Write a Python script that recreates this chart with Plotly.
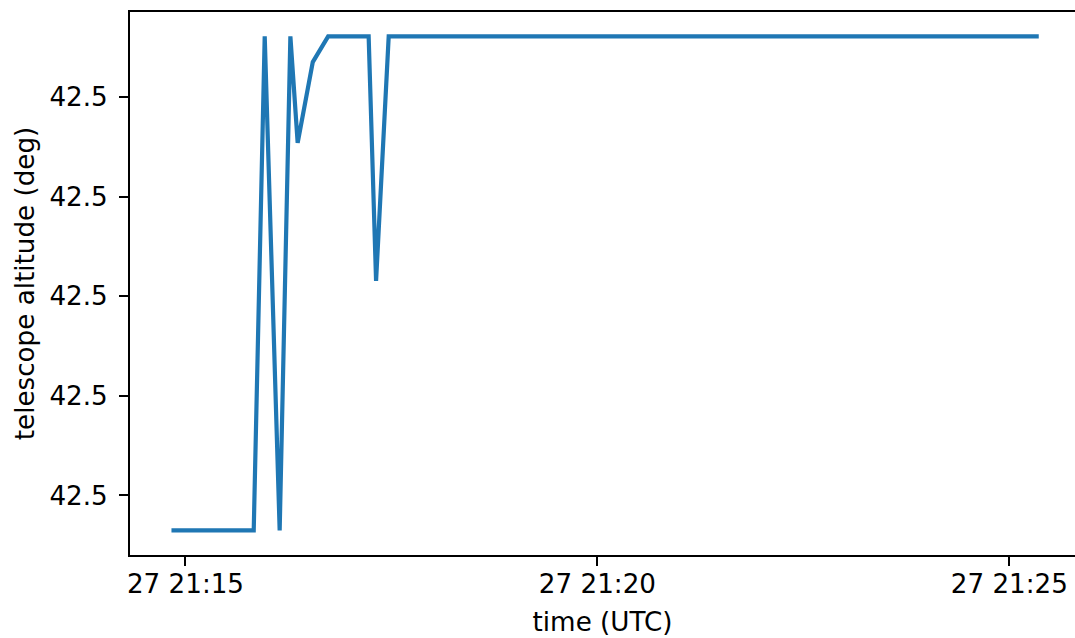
import plotly.graph_objects as go

# --- data ---
date = "2023-03-27"
times = ["21:14:49.8", "21:15:49.7", "21:15:57.7", "21:16:08.6", "21:16:16.4",
         "21:16:21.7", "21:16:32.7", "21:16:43.9", "21:17:13.4", "21:17:18.8",
         "21:17:28.0", "21:25:21.4"]
altitude = [42.4997649, 42.4997649, 42.5002609, 42.4997649, 42.5002609,
            42.5001539, 42.5002351, 42.5002609, 42.5002609, 42.5000155,
            42.5002609, 42.5002609]
x_title = "time (UTC)"
y_title = "telescope altitude (deg)"

x = [f"{date} {t}" for t in times]

FONT = "DejaVu Sans"
FS = 26.2

fig = go.Figure()
fig.add_trace(go.Scatter(x=x, y=altitude, mode="lines",
                         line=dict(color="#1f77b4", width=4.2),
                         showlegend=False))

fig.update_layout(
    width=1075, height=638,
    paper_bgcolor="white", plot_bgcolor="white",
    margin=dict(l=130, r=0, t=12, b=83, autoexpand=False),
    font=dict(family=FONT, size=FS, color="black"),
)
fig.update_xaxes(
    type="date",
    range=[f"{date} 21:14:19.6", f"{date} 21:25:47.8"],
    tickformat="%d %H:%M", dtick=300000, tick0=f"{date} 21:15:00",
    showgrid=False, zeroline=False,
    showline=True, linecolor="black", linewidth=2, mirror=True,
    ticks="outside", ticklen=9, tickwidth=2, tickcolor="black",
    ticklabelstandoff=-4,
    tickfont=dict(family=FONT, size=FS, color="black"),
    title=dict(text=x_title, font=dict(family=FONT, size=FS, color="black"), standoff=14),
)
fig.update_yaxes(
    range=[42.49974025, 42.5002854],
    tick0=42.4998, dtick=0.0001, tickformat=".1f",
    showgrid=False, zeroline=False,
    showline=True, linecolor="black", linewidth=2, mirror=False,
    ticks="outside", ticklen=9, tickwidth=2, tickcolor="black",
    ticklabelstandoff=6,
    tickfont=dict(family=FONT, size=FS, color="black"),
    title=dict(text=y_title, font=dict(family=FONT, size=FS, color="black"), standoff=7),
)

fig.write_html("out.html", config={"displayModeBar": False},
               post_script="document.body.style.margin='0';document.body.style.padding='0';")
